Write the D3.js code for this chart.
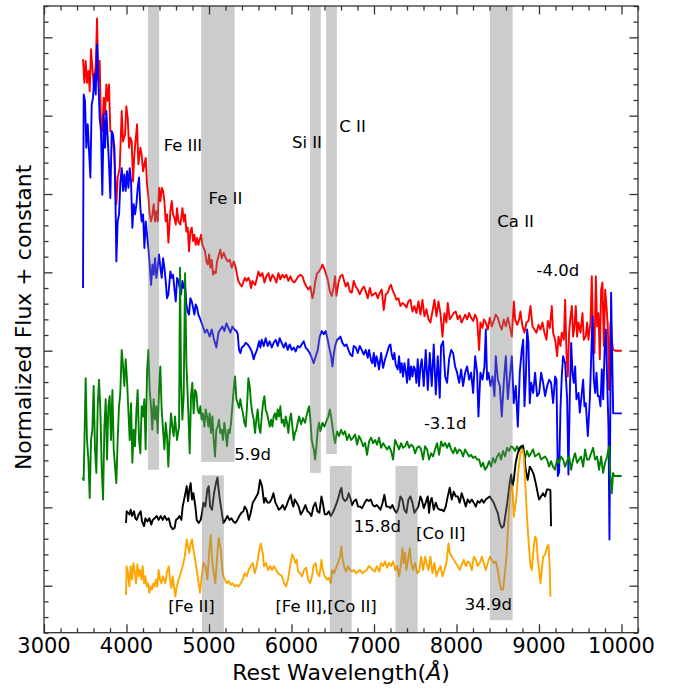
<!DOCTYPE html>
<html>
<head>
<meta charset="utf-8">
<script src="https://cdn.jsdelivr.net/npm/d3@7"></script>
<style>
  body { margin: 0; background: #fff; }
  text { font-family: "DejaVu Sans", sans-serif; fill: #000; }
</style>
</head>
<body>
<svg id="chart" width="673" height="690"></svg>
<script>
// Spectra: [rest wavelength (Å), normalized flux + offset]
const specM40 = [[3473,6.72],[3489,6.42],[3505,6.70],[3521,6.42],[3538,6.57],[3554,6.31],[3570,6.85],[3586,6.61],[3602,6.40],[3627,6.65],[3643,7.24],[3659,6.44],[3675,6.70],[3691,5.89],[3707,5.80],[3724,6.23],[3740,6.02],[3756,6.40],[3772,6.19],[3788,6.40],[3804,5.80],[3821,5.80],[3837,5.67],[3853,5.50],[3877,4.87],[3893,5.21],[3918,5.33],[3942,6.06],[3958,5.67],[3982,5.76],[3998,6.12],[4015,5.97],[4031,5.59],[4047,5.72],[4063,5.67],[4079,5.16],[4095,5.50],[4128,5.89],[4144,5.38],[4168,5.59],[4184,5.50],[4201,5.29],[4217,5.38],[4233,5.46],[4249,5.12],[4265,4.97],[4281,4.74],[4298,4.65],[4314,4.74],[4330,4.87],[4346,4.65],[4362,4.78],[4378,4.65],[4394,5.08],[4411,4.91],[4427,5.08],[4443,5.04],[4459,4.91],[4475,4.65],[4491,4.74],[4508,4.38],[4532,4.78],[4548,4.91],[4564,4.74],[4580,4.70],[4597,4.61],[4613,4.82],[4629,4.65],[4653,4.61],[4678,4.82],[4694,4.65],[4710,4.74],[4726,4.52],[4742,4.57],[4758,4.27],[4774,4.52],[4791,4.57],[4807,4.40],[4823,4.48],[4839,4.35],[4855,4.44],[4871,4.35],[4904,4.48],[4920,4.35],[4936,4.31],[4952,4.27],[4968,4.14],[4985,4.10],[5001,4.23],[5017,4.06],[5033,4.16],[5049,3.97],[5065,4.01],[5082,3.99],[5098,4.14],[5122,4.23],[5138,4.29],[5154,4.18],[5179,4.25],[5203,4.18],[5227,4.14],[5251,4.16],[5276,4.06],[5300,4.14],[5324,4.06],[5340,3.97],[5356,3.89],[5381,3.84],[5397,3.82],[5421,3.89],[5437,3.93],[5454,3.89],[5478,3.93],[5494,3.89],[5510,3.80],[5526,3.89],[5559,3.84],[5583,3.93],[5599,4.01],[5623,3.95],[5647,3.99],[5672,3.87],[5696,3.95],[5720,3.99],[5744,3.89],[5769,3.97],[5793,3.93],[5817,3.87],[5841,3.99],[5865,3.91],[5890,3.97],[5914,3.93],[5938,3.97],[5962,3.89],[5987,3.95],[6011,3.89],[6035,3.87],[6059,3.91],[6084,3.95],[6108,3.97],[6132,3.95],[6156,3.87],[6181,3.82],[6205,3.78],[6229,3.82],[6254,3.67],[6270,3.74],[6286,3.87],[6310,3.99],[6334,4.01],[6359,4.06],[6375,4.10],[6399,4.04],[6415,3.99],[6439,3.91],[6464,3.76],[6488,3.70],[6512,3.82],[6528,3.95],[6544,3.70],[6569,3.87],[6593,3.95],[6617,3.97],[6633,3.91],[6658,3.82],[6682,3.87],[6706,3.76],[6730,3.74],[6755,3.89],[6779,3.82],[6803,3.78],[6827,3.72],[6852,3.78],[6876,3.82],[6900,3.76],[6924,3.67],[6949,3.80],[6973,3.70],[6997,3.72],[7021,3.74],[7046,3.67],[7070,3.74],[7094,3.78],[7118,3.52],[7143,3.72],[7167,3.74],[7191,3.82],[7207,3.84],[7223,3.78],[7248,3.72],[7272,3.65],[7296,3.67],[7320,3.57],[7345,3.61],[7369,3.59],[7393,3.55],[7417,3.63],[7442,3.65],[7466,3.50],[7490,3.57],[7514,3.48],[7539,3.63],[7563,3.46],[7587,3.65],[7611,3.44],[7636,3.53],[7660,3.40],[7684,3.36],[7708,3.50],[7733,3.65],[7757,3.44],[7781,3.63],[7805,3.48],[7830,3.18],[7854,3.48],[7878,3.36],[7894,3.61],[7918,3.40],[7943,3.44],[7967,3.48],[7991,3.50],[8015,3.40],[8040,3.45],[8060,3.36],[8080,3.40],[8105,3.46],[8129,3.40],[8153,3.48],[8177,3.42],[8202,3.38],[8226,3.46],[8250,3.40],[8274,3.01],[8290,3.36],[8315,3.29],[8331,3.40],[8355,3.36],[8379,3.27],[8404,3.42],[8428,3.31],[8452,3.38],[8476,3.46],[8501,3.42],[8525,3.33],[8549,3.27],[8573,3.40],[8598,3.31],[8622,3.42],[8646,3.31],[8670,3.18],[8695,3.63],[8711,3.40],[8735,3.33],[8759,3.40],[8775,3.50],[8800,3.31],[8824,3.23],[8848,3.36],[8872,3.38],[8897,3.57],[8921,3.31],[8945,3.27],[8969,3.23],[8994,3.33],[9018,3.27],[9042,3.36],[9066,3.23],[9091,3.14],[9107,3.38],[9131,3.29],[9155,3.57],[9171,3.23],[9196,3.14],[9220,2.93],[9236,3.18],[9260,3.06],[9276,3.23],[9301,3.14],[9317,3.65],[9333,2.97],[9349,2.67],[9365,3.23],[9381,3.42],[9398,3.57],[9414,3.18],[9430,3.31],[9446,3.57],[9462,3.18],[9478,3.36],[9503,3.23],[9527,3.48],[9543,3.14],[9567,3.18],[9583,3.36],[9600,3.14],[9624,3.36],[9640,3.95],[9656,3.18],[9672,2.97],[9689,3.95],[9705,3.31],[9721,3.48],[9737,2.89],[9753,3.78],[9769,3.87],[9786,3.06],[9802,3.78],[9818,3.57],[9834,3.31],[9850,2.50],[9866,3.36],[9882,3.14],[9899,3.01],[9923,3.00],[10004,3.00]];

const specM31 = [[3473,3.80],[3481,6.27],[3497,6.19],[3513,5.59],[3530,5.89],[3546,5.55],[3562,5.21],[3578,6.14],[3594,6.23],[3610,6.53],[3627,6.27],[3643,6.91],[3659,6.44],[3675,5.97],[3691,5.80],[3707,4.99],[3724,6.02],[3740,5.59],[3756,6.06],[3772,5.72],[3788,5.38],[3804,4.95],[3821,5.80],[3837,5.76],[3853,5.59],[3869,4.74],[3877,4.14],[3893,4.65],[3910,4.74],[3926,5.16],[3942,5.33],[3958,5.04],[3974,5.25],[3990,5.04],[4007,5.29],[4023,5.08],[4039,5.33],[4055,5.16],[4071,4.57],[4087,4.87],[4104,4.74],[4120,4.87],[4136,5.08],[4152,5.21],[4168,4.82],[4184,4.65],[4201,4.74],[4217,4.31],[4233,4.65],[4249,4.48],[4265,4.31],[4281,4.10],[4298,3.84],[4314,4.10],[4330,3.97],[4346,4.18],[4362,3.93],[4378,4.06],[4394,4.23],[4411,4.06],[4427,3.93],[4443,4.18],[4459,4.06],[4475,3.89],[4491,3.67],[4508,3.72],[4532,4.01],[4548,3.93],[4564,3.97],[4580,3.80],[4597,3.63],[4613,3.93],[4629,3.89],[4645,3.80],[4661,3.72],[4678,3.89],[4694,3.80],[4710,3.84],[4726,3.59],[4742,3.50],[4758,3.46],[4774,3.67],[4791,3.63],[4807,3.55],[4823,3.46],[4839,3.59],[4855,3.55],[4871,3.46],[4888,3.42],[4912,3.35],[4952,3.23],[4976,3.27],[5009,3.18],[5033,3.27],[5057,3.16],[5089,3.04],[5114,3.23],[5138,3.27],[5162,3.31],[5187,3.25],[5211,3.35],[5235,3.29],[5259,3.23],[5284,3.31],[5308,3.27],[5332,3.25],[5348,3.21],[5364,3.01],[5381,2.97],[5397,3.04],[5421,3.06],[5445,3.10],[5470,3.08],[5494,3.04],[5518,2.99],[5542,2.89],[5558,2.95],[5582,3.01],[5607,3.12],[5623,3.04],[5639,3.14],[5663,3.06],[5687,3.16],[5712,3.06],[5736,3.12],[5760,3.04],[5784,3.10],[5809,3.14],[5833,3.06],[5857,3.16],[5881,3.10],[5906,3.04],[5930,3.10],[5954,3.01],[5978,3.08],[6003,3.01],[6027,3.04],[6051,2.99],[6075,3.06],[6100,3.04],[6124,3.08],[6148,3.12],[6172,3.04],[6197,3.01],[6221,2.97],[6245,2.91],[6269,2.84],[6294,2.93],[6318,3.01],[6342,3.18],[6366,3.25],[6391,3.21],[6415,3.25],[6439,3.14],[6463,3.01],[6480,2.93],[6496,2.80],[6512,2.95],[6528,3.06],[6552,3.14],[6577,3.16],[6593,3.18],[6617,3.10],[6641,3.06],[6666,3.08],[6690,3.01],[6714,2.95],[6738,2.93],[6754,3.06],[6779,3.04],[6803,2.97],[6827,3.06],[6851,3.01],[6876,2.95],[6900,3.01],[6924,2.91],[6940,3.01],[6965,2.87],[6981,2.84],[6997,2.97],[7013,2.80],[7029,2.93],[7045,2.87],[7061,2.76],[7086,2.97],[7110,2.78],[7134,2.89],[7158,2.97],[7183,3.06],[7199,3.08],[7215,2.95],[7231,2.89],[7247,2.97],[7264,2.82],[7288,2.76],[7304,2.93],[7320,2.72],[7336,2.84],[7352,2.67],[7369,2.84],[7385,2.74],[7401,2.59],[7417,2.89],[7433,2.63],[7449,2.80],[7466,2.67],[7482,2.80],[7498,2.76],[7514,2.59],[7530,2.89],[7546,2.55],[7563,2.80],[7579,2.89],[7603,2.55],[7627,3.01],[7652,2.50],[7676,2.97],[7700,2.55],[7724,3.08],[7749,2.44],[7773,2.93],[7797,2.40],[7813,3.06],[7838,3.12],[7862,2.67],[7886,2.59],[7910,2.89],[7935,3.01],[7959,2.97],[7983,2.80],[8007,2.72],[8032,2.59],[8056,2.76],[8080,2.55],[8105,2.72],[8129,2.80],[8153,2.63],[8177,2.72],[8202,2.46],[8226,2.93],[8250,2.72],[8266,2.16],[8290,2.72],[8315,2.63],[8339,2.80],[8355,3.27],[8371,2.63],[8387,2.72],[8412,2.55],[8436,2.67],[8460,2.42],[8476,2.93],[8501,2.63],[8525,2.55],[8549,2.16],[8573,2.59],[8598,2.93],[8622,2.38],[8646,2.67],[8670,2.93],[8694,2.33],[8719,2.55],[8743,2.03],[8767,2.72],[8791,3.01],[8808,3.14],[8824,2.29],[8840,2.63],[8856,3.27],[8872,3.10],[8888,2.33],[8905,2.59],[8929,2.46],[8953,2.72],[8977,2.42],[9002,2.46],[9026,2.72],[9050,2.59],[9074,2.42],[9099,2.55],[9123,2.63],[9147,2.59],[9171,2.33],[9196,2.67],[9212,2.63],[9228,1.40],[9244,1.45],[9260,2.25],[9276,2.67],[9292,2.93],[9317,2.84],[9341,2.38],[9357,1.42],[9373,2.42],[9390,3.10],[9406,2.72],[9422,2.59],[9438,2.80],[9454,2.38],[9479,2.46],[9495,2.21],[9519,2.46],[9535,2.63],[9551,2.29],[9567,2.33],[9592,1.91],[9616,2.38],[9632,2.89],[9648,3.44],[9665,2.63],[9681,2.46],[9697,2.72],[9713,2.42],[9729,2.42],[9745,2.29],[9761,2.76],[9778,2.38],[9794,2.97],[9810,3.27],[9826,2.63],[9842,2.03],[9854,0.59],[9874,3.74],[9899,2.20],[10004,2.20]];

const specP59 = [[3465,1.38],[3481,1.35],[3505,2.65],[3521,1.86],[3538,1.61],[3554,1.12],[3570,1.86],[3586,1.99],[3602,2.55],[3618,1.74],[3635,1.44],[3651,2.29],[3667,2.63],[3683,2.25],[3699,1.52],[3716,1.10],[3732,2.03],[3748,2.38],[3764,1.61],[3780,2.29],[3796,2.42],[3812,1.86],[3829,2.50],[3845,1.74],[3861,1.52],[3877,1.31],[3893,1.86],[3909,2.29],[3925,2.46],[3942,3.01],[3958,2.80],[3974,2.55],[3990,2.89],[4006,2.63],[4022,2.25],[4039,1.86],[4055,2.33],[4071,1.57],[4087,1.99],[4103,1.78],[4119,2.20],[4135,2.50],[4152,1.86],[4168,1.69],[4184,2.29],[4200,2.16],[4216,2.38],[4232,1.74],[4249,2.72],[4265,3.01],[4281,2.50],[4297,2.29],[4313,1.99],[4329,2.38],[4346,2.12],[4362,2.29],[4378,1.95],[4394,2.50],[4410,2.80],[4426,2.25],[4443,1.99],[4459,1.74],[4475,2.08],[4491,1.91],[4507,1.52],[4523,1.91],[4540,2.20],[4556,2.03],[4572,1.91],[4588,2.16],[4612,1.86],[4637,2.03],[4649,4.06],[4661,2.63],[4677,2.12],[4693,2.42],[4710,3.99],[4726,2.84],[4750,2.20],[4766,1.69],[4782,2.42],[4798,2.59],[4814,2.20],[4831,2.50],[4847,2.46],[4863,2.25],[4879,2.20],[4895,2.29],[4911,2.12],[4927,2.20],[4944,2.03],[4960,2.25],[4976,2.16],[4992,2.03],[5008,2.20],[5024,1.95],[5041,2.16],[5057,1.86],[5073,1.65],[5089,1.99],[5105,2.03],[5121,2.12],[5137,1.95],[5154,1.99],[5170,1.86],[5186,2.08],[5202,1.95],[5218,1.78],[5235,1.99],[5251,1.95],[5267,2.08],[5283,2.29],[5299,2.50],[5315,2.67],[5332,2.38],[5348,2.33],[5364,2.27],[5380,2.38],[5396,2.27],[5412,2.20],[5429,2.08],[5445,2.03],[5461,2.29],[5477,2.65],[5493,2.55],[5509,2.33],[5526,2.20],[5542,2.12],[5558,1.95],[5574,2.12],[5590,2.25],[5606,2.03],[5623,1.95],[5639,2.16],[5655,2.33],[5671,2.42],[5687,2.25],[5703,2.20],[5736,2.03],[5752,2.12],[5768,2.03],[5784,2.16],[5800,2.20],[5817,2.12],[5833,2.25],[5849,2.16],[5865,2.29],[5881,2.08],[5897,2.12],[5914,2.03],[5930,2.16],[5946,2.08],[5962,1.95],[5978,2.12],[5994,2.20],[6011,2.03],[6027,1.86],[6043,1.95],[6059,1.99],[6075,2.08],[6092,2.16],[6116,2.06],[6140,2.14],[6164,2.08],[6189,2.20],[6213,2.29],[6229,2.12],[6245,1.86],[6270,1.74],[6286,1.61],[6302,1.78],[6318,1.99],[6334,2.08],[6350,1.97],[6375,2.08],[6399,2.03],[6423,2.10],[6447,2.16],[6464,2.25],[6480,2.16],[6496,2.03],[6512,1.91],[6528,1.82],[6552,1.97],[6577,1.91],[6601,1.99],[6625,1.93],[6649,1.97],[6674,1.86],[6698,1.93],[6722,1.86],[6746,1.89],[6771,1.93],[6795,1.80],[6819,1.91],[6843,1.86],[6868,1.78],[6892,1.82],[6916,1.67],[6940,1.84],[6965,1.89],[6989,1.82],[7013,1.86],[7037,1.80],[7061,1.89],[7086,1.76],[7110,1.82],[7134,1.78],[7158,1.74],[7183,1.78],[7207,1.72],[7231,1.61],[7255,1.86],[7280,1.80],[7304,1.74],[7328,1.82],[7352,1.76],[7377,1.78],[7401,1.84],[7425,1.76],[7449,1.80],[7474,1.78],[7498,1.69],[7522,1.76],[7546,1.78],[7571,1.74],[7595,1.61],[7619,1.78],[7643,1.74],[7668,1.61],[7692,1.69],[7716,1.65],[7740,1.74],[7765,1.82],[7789,1.67],[7813,1.84],[7837,1.78],[7862,1.82],[7886,1.76],[7910,1.82],[7935,1.74],[7959,1.69],[7983,1.76],[8007,1.69],[8032,1.74],[8056,1.72],[8080,1.65],[8104,1.74],[8129,1.69],[8153,1.65],[8177,1.67],[8201,1.63],[8225,1.65],[8250,1.61],[8274,1.61],[8298,1.52],[8322,1.57],[8346,1.48],[8371,1.52],[8395,1.59],[8419,1.52],[8443,1.63],[8467,1.57],[8492,1.65],[8516,1.69],[8540,1.61],[8564,1.72],[8589,1.65],[8613,1.76],[8637,1.72],[8661,1.78],[8686,1.76],[8710,1.72],[8734,1.78],[8758,1.72],[8782,1.78],[8807,1.74],[8831,1.63],[8855,1.72],[8879,1.65],[8903,1.69],[8928,1.74],[8952,1.65],[8976,1.67],[9000,1.69],[9025,1.61],[9049,1.63],[9073,1.65],[9097,1.61],[9122,1.52],[9146,1.59],[9170,1.52],[9194,1.48],[9219,1.61],[9243,1.57],[9267,1.65],[9292,1.61],[9316,1.52],[9340,1.59],[9365,1.65],[9389,1.48],[9413,1.61],[9437,1.69],[9462,1.57],[9486,1.61],[9510,1.65],[9535,1.52],[9559,1.74],[9583,1.61],[9607,1.61],[9631,1.69],[9656,1.76],[9680,1.61],[9704,1.65],[9728,1.48],[9753,1.65],[9777,1.44],[9801,1.57],[9825,1.65],[9850,1.78],[9866,1.40],[9882,1.18],[9898,1.44],[9914,1.40],[10003,1.40]];

const specP158 = [[3994,0.80],[4002,0.95],[4035,0.91],[4051,0.97],[4067,0.89],[4091,0.95],[4107,0.86],[4124,0.84],[4148,0.91],[4172,0.95],[4188,0.82],[4213,0.76],[4229,0.86],[4253,0.82],[4277,0.86],[4301,0.78],[4318,0.84],[4342,0.86],[4366,0.89],[4390,0.84],[4415,0.89],[4439,0.84],[4463,0.89],[4487,0.84],[4512,0.86],[4536,0.76],[4560,0.72],[4584,0.74],[4600,0.84],[4625,0.86],[4641,0.89],[4665,0.84],[4681,1.01],[4706,1.14],[4730,1.27],[4746,1.08],[4762,1.23],[4778,1.31],[4794,1.10],[4811,1.18],[4835,1.01],[4851,0.84],[4875,0.80],[4899,0.84],[4916,0.93],[4932,1.06],[4956,1.01],[4980,1.23],[4997,1.27],[5013,1.01],[5037,0.97],[5061,1.18],[5085,1.31],[5102,1.38],[5126,1.14],[5150,0.97],[5174,0.80],[5199,0.84],[5223,0.89],[5247,0.84],[5271,0.86],[5296,0.82],[5320,0.80],[5344,0.84],[5368,0.89],[5393,0.93],[5417,0.95],[5433,1.01],[5457,0.97],[5482,0.84],[5506,0.93],[5530,1.06],[5554,1.10],[5595,1.18],[5619,1.35],[5643,1.27],[5667,1.06],[5684,1.12],[5708,1.06],[5732,1.06],[5756,1.10],[5781,1.18],[5805,1.06],[5829,1.01],[5845,0.97],[5869,0.99],[5893,1.03],[5918,0.97],[5942,1.03],[5966,1.10],[5990,1.16],[6007,1.06],[6023,1.01],[6039,1.10],[6063,1.06],[6088,1.01],[6112,0.91],[6136,0.95],[6169,1.03],[6193,0.95],[6217,0.93],[6241,0.89],[6266,1.01],[6290,1.06],[6314,0.95],[6338,0.93],[6363,1.14],[6379,1.06],[6403,0.91],[6427,0.91],[6452,0.95],[6476,0.89],[6500,0.93],[6524,0.99],[6549,1.06],[6573,1.14],[6589,1.21],[6605,1.25],[6621,1.12],[6646,1.08],[6670,1.10],[6694,1.18],[6718,1.10],[6734,1.03],[6759,1.08],[6783,1.10],[6807,1.01],[6831,1.01],[6856,0.99],[6888,1.06],[6912,1.10],[6937,1.08],[6961,1.10],[6985,1.03],[7009,1.01],[7033,1.03],[7078,0.97],[7102,1.05],[7126,1.16],[7150,1.01],[7175,1.01],[7199,0.99],[7223,1.03],[7247,0.97],[7271,0.93],[7296,0.99],[7320,1.14],[7344,1.10],[7368,0.97],[7393,0.93],[7417,1.10],[7441,1.14],[7465,1.06],[7490,0.93],[7514,0.97],[7538,1.01],[7562,1.14],[7578,1.10],[7603,0.99],[7627,1.06],[7651,1.14],[7667,0.93],[7683,1.08],[7700,1.12],[7724,0.97],[7748,1.06],[7772,0.99],[7797,0.97],[7821,0.97],[7845,0.95],[7869,1.01],[7894,1.14],[7918,1.25],[7942,1.10],[7966,1.20],[7991,1.14],[8015,1.14],[8039,1.06],[8063,1.18],[8088,1.10],[8112,1.01],[8136,1.10],[8160,1.06],[8185,1.10],[8209,1.06],[8233,1.01],[8257,1.08],[8281,1.06],[8306,1.10],[8330,1.06],[8354,1.10],[8378,1.12],[8403,1.14],[8427,1.10],[8451,1.06],[8476,0.99],[8500,0.93],[8524,0.80],[8548,0.74],[8573,0.76],[8597,0.93],[8621,1.10],[8645,1.31],[8662,1.42],[8678,1.27],[8694,1.35],[8718,1.57],[8742,1.69],[8766,1.76],[8791,1.78],[8807,1.79],[8823,1.65],[8839,1.48],[8863,1.35],[8888,1.52],[8912,1.48],[8936,1.42],[8960,1.31],[8985,1.18],[9001,1.10],[9025,1.14],[9049,1.18],[9073,1.14],[9098,1.23],[9114,1.23],[9138,1.22],[9146,0.76]];

const specP349 = [[3994,-0.12],[4002,0.25],[4018,0.16],[4035,-0.01],[4051,0.25],[4067,0.08],[4083,0.29],[4099,0.18],[4115,0.03],[4132,0.27],[4148,0.12],[4164,0.20],[4180,0.08],[4196,0.25],[4213,0.03],[4229,0.12],[4245,-0.01],[4261,0.03],[4277,-0.09],[4293,-0.01],[4309,-0.05],[4326,0.03],[4342,-0.01],[4358,0.08],[4374,-0.01],[4390,0.20],[4406,0.08],[4423,0.03],[4439,0.12],[4455,0.08],[4471,0.03],[4487,0.16],[4512,0.25],[4528,0.08],[4544,-0.03],[4560,0.12],[4576,-0.01],[4592,-0.14],[4609,-0.01],[4633,0.08],[4657,0.16],[4681,0.25],[4706,0.37],[4730,0.59],[4746,0.50],[4762,0.42],[4778,0.54],[4794,0.59],[4811,0.46],[4827,0.37],[4843,0.25],[4867,0.08],[4891,-0.09],[4907,0.08],[4932,0.29],[4956,0.25],[4980,0.08],[5004,0.46],[5021,0.65],[5037,0.33],[5053,0.20],[5077,0.03],[5102,0.42],[5118,0.61],[5142,0.46],[5166,0.16],[5190,0.08],[5215,0.03],[5239,0.06],[5263,0.01],[5287,0.03],[5312,-0.01],[5336,0.01],[5360,-0.01],[5384,0.03],[5409,0.08],[5433,0.16],[5457,0.12],[5481,0.20],[5506,0.25],[5530,0.29],[5554,0.16],[5578,0.25],[5603,0.42],[5627,0.54],[5651,0.42],[5667,0.25],[5692,0.29],[5716,0.20],[5740,0.25],[5764,0.20],[5789,0.25],[5813,0.20],[5837,0.16],[5861,0.14],[5886,0.12],[5910,0.03],[5934,-0.01],[5958,0.08],[5983,0.25],[6007,0.40],[6023,0.37],[6047,0.29],[6063,0.33],[6080,0.18],[6104,0.16],[6128,0.12],[6152,0.20],[6177,0.23],[6201,0.08],[6225,0.03],[6249,0.12],[6266,0.25],[6290,0.29],[6314,0.16],[6338,0.12],[6363,0.33],[6379,0.20],[6403,0.12],[6427,0.08],[6451,0.10],[6476,0.03],[6492,0.20],[6516,0.16],[6540,0.23],[6564,0.29],[6589,0.37],[6605,0.50],[6621,0.33],[6637,0.25],[6661,0.18],[6686,0.25],[6710,0.20],[6734,0.18],[6758,0.20],[6783,0.16],[6807,0.18],[6831,0.20],[6856,0.16],[6888,0.18],[6912,0.20],[6937,0.25],[6961,0.23],[6985,0.20],[7009,0.18],[7033,0.25],[7066,0.18],[7086,0.29],[7110,0.25],[7135,0.31],[7159,0.23],[7183,0.29],[7207,0.25],[7232,0.31],[7256,0.20],[7280,0.25],[7304,0.12],[7329,0.29],[7345,0.48],[7361,0.29],[7377,0.42],[7393,0.20],[7418,0.37],[7434,0.48],[7450,0.29],[7474,0.20],[7498,0.29],[7523,0.16],[7547,0.18],[7571,0.37],[7595,0.20],[7620,0.37],[7636,0.29],[7660,0.20],[7684,0.37],[7709,0.16],[7733,0.29],[7757,0.12],[7781,0.20],[7806,0.25],[7830,0.12],[7854,0.20],[7878,0.29],[7903,0.54],[7919,0.42],[7943,0.37],[7967,0.33],[7991,0.29],[8016,0.25],[8040,0.20],[8064,0.27],[8088,0.33],[8113,0.25],[8137,0.31],[8161,0.29],[8185,0.20],[8210,0.37],[8234,0.33],[8258,0.25],[8282,0.29],[8307,0.37],[8331,0.29],[8355,0.20],[8379,0.29],[8404,0.37],[8428,0.33],[8452,0.29],[8476,0.31],[8501,0.20],[8525,0.03],[8541,-0.05],[8565,-0.05],[8582,0.12],[8606,0.37],[8622,0.71],[8646,1.14],[8662,1.27],[8678,1.27],[8695,0.88],[8727,1.14],[8751,1.48],[8775,1.69],[8800,1.74],[8816,1.65],[8832,1.35],[8848,1.01],[8864,0.71],[8881,0.46],[8897,0.25],[8913,0.20],[8937,0.50],[8953,0.63],[8970,0.59],[8986,0.33],[9002,0.20],[9018,0.03],[9034,0.20],[9050,0.37],[9075,0.40],[9099,0.50],[9115,0.52],[9131,0.20],[9139,-0.14]];

// Epoch series, in drawing order
const seriesNames  = ["-4.0d", "-3.1d", "5.9d", "15.8d", "34.9d"];
const seriesData   = [specM40, specM31, specP59, specP158, specP349];
const seriesColors = ["#ff0000", "#0000ff", "#008000", "#000000", "#ffa500"];

// Line-identification regions: [start Å, end Å, lower flux, upper flux]
const bandStart = [4260, 4905, 6225, 6420, 8405, 4915, 6465, 7260];
const bandEnd   = [4395, 5310, 6355, 6550, 8680, 5180, 6730, 7530];
const bandLow   = [1.48, 1.58, 1.44, 1.68, -0.44, -0.6, -0.6, -0.6];
const bandHigh  = [7.4, 7.4, 7.4, 7.4, 7.4, 1.41, 1.53, 1.53];

// Text annotations placed in data coordinates
const noteText = ["Fe III", "Fe II", "Si II", "C II", "Ca II", "-4.0d", "-3.1d", "5.9d", "15.8d", "[Co II]", "[Fe II]", "[Fe II],[Co II]", "34.9d"];
const noteWave = [4450, 4995, 6005, 6580, 8495, 8970, 7605, 5305, 6755, 7510, 4505, 5805, 8100];
const noteFlux = [5.55, 4.87, 5.59, 5.79, 4.58, 3.95, 2.00, 1.60, 0.68, 0.59, -0.34, -0.34, -0.31];

// Axis ticks
const xTickValues = [3000, 4000, 5000, 6000, 7000, 8000, 9000, 10000];
const xTickLabels = ["3000", "4000", "5000", "6000", "7000", "8000", "9000", "10000"];
const yTickValues = [0, 1, 2, 3, 4, 5, 6, 7];
const xMinorStep = 200;
const yMinorStep = 0.2;

const xDomain = [3000, 10200];
const yDomain = [-0.6, 7.4];

const svg = d3.select("#chart");
const plot = { left: 44, right: 638, top: 6, bottom: 632.7 };

const x = d3.scaleLinear().domain(xDomain).range([plot.left, plot.right]);
const y = d3.scaleLinear().domain(yDomain).range([plot.bottom, plot.top]);

svg.append("defs").append("clipPath").attr("id", "plot-clip")
  .append("rect")
  .attr("x", plot.left).attr("y", plot.top)
  .attr("width", plot.right - plot.left).attr("height", plot.bottom - plot.top);

// Spectra
const line = d3.line().x(d => x(d[0])).y(d => y(d[1]));
const lines = svg.append("g").attr("clip-path", "url(#plot-clip)");
seriesData.forEach((data, i) => {
  lines.append("path")
    .datum(data)
    .attr("class", "spectrum")
    .attr("data-epoch", seriesNames[i])
    .attr("fill", "none")
    .attr("stroke", seriesColors[i])
    .attr("stroke-width", 1.9)
    .attr("stroke-linejoin", "round")
    .attr("d", line);
});

// Shaded regions sit over the spectra, semi-transparent
const bands = svg.append("g").attr("clip-path", "url(#plot-clip)");
bandStart.forEach((s, i) => {
  bands.append("rect")
    .attr("x", x(s))
    .attr("width", x(bandEnd[i]) - x(s))
    .attr("y", y(bandHigh[i]))
    .attr("height", y(bandLow[i]) - y(bandHigh[i]))
    .attr("fill", "#808080")
    .attr("fill-opacity", 0.4);
});

// Annotations
const notes = svg.append("g");
noteText.forEach((t, i) => {
  notes.append("text")
    .attr("x", x(noteWave[i]))
    .attr("y", y(noteFlux[i]))
    .attr("font-size", 16.5)
    .text(t);
});

// Axes: ticks point inward on all four sides
const tickColor = "#333";
const xMinor = d3.range(xDomain[0], xDomain[1] + 1, xMinorStep).filter(v => !xTickValues.includes(v));
const yMinor = d3.range(-0.6, 7.41, yMinorStep).map(v => +v.toFixed(1)).filter(v => !yTickValues.includes(v));

function styleAxis(g) {
  g.select(".domain").remove();
  g.selectAll(".tick line").attr("stroke", tickColor).attr("stroke-width", 1.3);
  g.selectAll(".tick text").remove();
}

svg.append("g").attr("transform", `translate(0,${plot.bottom})`)
  .call(d3.axisBottom(x).tickValues(xTickValues).tickSize(-8.5).tickSizeOuter(0)).call(styleAxis);
svg.append("g").attr("transform", `translate(0,${plot.bottom})`)
  .call(d3.axisBottom(x).tickValues(xMinor).tickSize(-4.5).tickSizeOuter(0)).call(styleAxis);
svg.append("g").attr("transform", `translate(0,${plot.top})`)
  .call(d3.axisTop(x).tickValues(xTickValues).tickSize(-8.5).tickSizeOuter(0)).call(styleAxis);
svg.append("g").attr("transform", `translate(0,${plot.top})`)
  .call(d3.axisTop(x).tickValues(xMinor).tickSize(-4.5).tickSizeOuter(0)).call(styleAxis);
svg.append("g").attr("transform", `translate(${plot.left},0)`)
  .call(d3.axisLeft(y).tickValues(yTickValues).tickSize(-8.5).tickSizeOuter(0)).call(styleAxis);
svg.append("g").attr("transform", `translate(${plot.left},0)`)
  .call(d3.axisLeft(y).tickValues(yMinor).tickSize(-4.5).tickSizeOuter(0)).call(styleAxis);
svg.append("g").attr("transform", `translate(${plot.right},0)`)
  .call(d3.axisRight(y).tickValues(yTickValues).tickSize(-8.5).tickSizeOuter(0)).call(styleAxis);
svg.append("g").attr("transform", `translate(${plot.right},0)`)
  .call(d3.axisRight(y).tickValues(yMinor).tickSize(-4.5).tickSizeOuter(0)).call(styleAxis);

// Frame
svg.append("rect")
  .attr("x", plot.left).attr("y", plot.top)
  .attr("width", plot.right - plot.left).attr("height", plot.bottom - plot.top)
  .attr("fill", "none").attr("stroke", tickColor).attr("stroke-width", 1.3);

// Tick labels
svg.append("g").selectAll("text").data(xTickValues).join("text")
  .attr("x", d => x(d))
  .attr("y", 653)
  .attr("text-anchor", "middle")
  .attr("font-size", 21)
  .text((d, i) => xTickLabels[i]);

// Axis titles
const xTitle = svg.append("text")
  .attr("x", (plot.left + plot.right) / 2)
  .attr("y", 680)
  .attr("text-anchor", "middle")
  .attr("font-size", 22);
xTitle.append("tspan").text("Rest Wavelength(");
xTitle.append("tspan").attr("font-style", "italic").text("Å");
xTitle.append("tspan").text(")");

svg.append("text")
  .attr("transform", `translate(31,${(plot.top + plot.bottom) / 2 - 2}) rotate(-90)`)
  .attr("text-anchor", "middle")
  .attr("font-size", 22)
  .text("Normalized Flux + constant");
</script>
</body>
</html>
